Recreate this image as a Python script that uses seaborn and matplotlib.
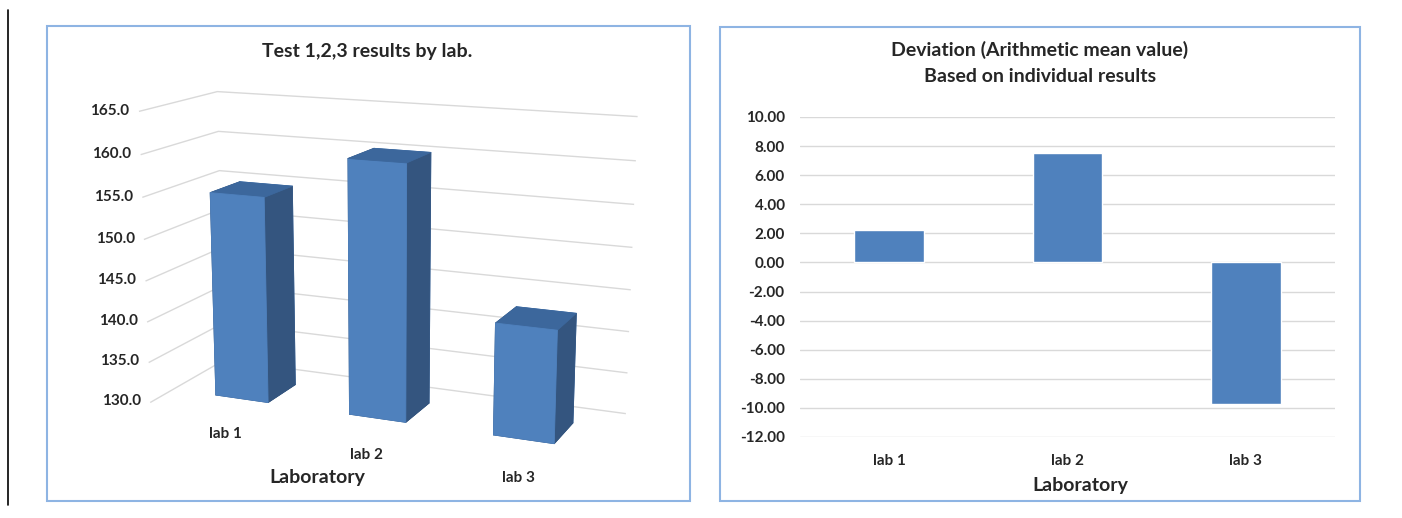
import numpy as np
import pandas as pd
import matplotlib
matplotlib.use('Agg')
import matplotlib.pyplot as plt
import seaborn as sns
from matplotlib.patches import Rectangle
from matplotlib.lines import Line2D
from matplotlib.ticker import FormatStrFormatter, NullFormatter
from mpl_toolkits.mplot3d import proj3d

labs = ['lab 1', 'lab 2', 'lab 3']
results = [155.0, 160.3, 143.1]
deviation = [2.2, 7.5, -9.7]
z_ticks = [130, 135, 140, 145, 150, 155, 160, 165]
dev_ticks = [-12, -10, -8, -6, -4, -2, 0, 2, 4, 6, 8, 10]

sns.set_theme(style='white')
plt.rcParams['font.family'] = ['Lato', 'DejaVu Sans']
plt.rcParams['font.weight'] = 'bold'

blue = '#4F81BD'
grid_c = '#D9D9D9'
frame_c = '#8EB4E3'

fig = plt.figure(figsize=(14.02, 5.18), dpi=100)
W, H = 1402, 518

def fx(px):
    return px / W

def fy(py):
    return 1 - py / H

# frames and the thin black line on the far left
fig.add_artist(Rectangle((fx(47), fy(501)), fx(690 - 47), (501 - 26) / H,
                         transform=fig.transFigure, fill=False, ec=frame_c, lw=1.5))
fig.add_artist(Rectangle((fx(720), fy(501)), fx(1360 - 720), (501 - 27) / H,
                         transform=fig.transFigure, fill=False, ec=frame_c, lw=1.5))
fig.add_artist(Line2D([fx(8), fx(8)], [fy(10), fy(505)], transform=fig.transFigure,
                      color='black', lw=1.2))

# ---- left: 3D bars
ax3 = fig.add_axes([fx(80), fy(475), fx(600), (475 - 65) / H], projection='3d')
ax3.set_proj_type('persp', focal_length=0.7)
ax3.view_init(elev=14, azim=-67)
ax3.set_box_aspect((3.2, 1.1, 2.1), zoom=1.36)

x = np.arange(len(labs))
heights = np.array(results) - 130
front = blue
top = '#3C679C'
side = '#34557F'
cols = []
for _ in labs:
    cols += [side, top, front, front, side, side]
ax3.bar3d(x - 0.17, np.full(len(labs), 0.3), np.full(len(labs), 130),
          0.4, 0.4, heights, color=cols, edgecolor=cols, linewidth=0.6, shade=False)

ax3.set_xlim(-0.5, 2.5)
ax3.set_ylim(0, 1)
ax3.set_zlim(130, 165)
ax3.set_zticks(z_ticks)
ax3.set_xticks(x)
ax3.set_yticks([])
ax3.xaxis.set_major_formatter(NullFormatter())
ax3.zaxis.set_major_formatter(NullFormatter())
for axis in (ax3.xaxis, ax3.yaxis, ax3.zaxis):
    axis.pane.fill = False
    axis.pane.set_edgecolor((1, 1, 1, 0))
    axis.line.set_color((1, 1, 1, 0))
    axis._axinfo['tick']['inward_factor'] = 0
    axis._axinfo['tick']['outward_factor'] = 0
for axis in (ax3.xaxis, ax3.yaxis):
    axis._axinfo['grid']['color'] = (1, 1, 1, 0)
    axis._axinfo['grid']['linewidth'] = 0
ax3.zaxis._axinfo['grid']['color'] = grid_c
ax3.zaxis._axinfo['grid']['linewidth'] = 1.0
ax3.set_facecolor('none')

# tick labels of the 3D axes, projected to 2D through the axes' own projection
M = ax3.get_proj()
for z in z_ticks:
    px, py, _ = proj3d.proj_transform(-0.57, 0, z, M)
    ax3.text2D(px, py, f'{z:.1f}', transform=ax3.transData, ha='right', va='center',
               fontsize=11, fontweight='bold')
for i, lab in enumerate(labs):
    px, py, _ = proj3d.proj_transform(i + 0.14, -0.12, 129.3, M)
    ax3.text2D(px, py, lab, transform=ax3.transData, ha='center', va='top',
               fontsize=11, fontweight='bold')

fig.text(fx(367), fy(52), 'Test 1,2,3 results by lab.', ha='center', va='center',
         fontsize=14, fontweight='bold')
fig.text(fx(317), fy(477), 'Laboratory', ha='center', va='center',
         fontsize=14, fontweight='bold')

# ---- right: deviation bars
ax = fig.add_axes([fx(800), fy(437), fx(1335 - 800), (437 - 117) / H])
df = pd.DataFrame({'lab': labs, 'dev': deviation})
sns.barplot(data=df, x='lab', y='dev', color=blue, saturation=1, width=0.39, ax=ax)
ax.set_ylim(-12, 10)
ax.set_xlim(-0.5, 2.5)
ax.set_yticks(dev_ticks)
ax.yaxis.set_major_formatter(FormatStrFormatter('%.2f'))
ax.grid(axis='y', color=grid_c, lw=1.0)
ax.set_axisbelow(True)
for s in ax.spines.values():
    s.set_visible(False)
ax.tick_params(axis='both', length=0, labelsize=11)
ax.tick_params(axis='x', pad=12)
ax.tick_params(axis='y', pad=11)
for t in ax.get_xticklabels() + ax.get_yticklabels():
    t.set_fontweight('bold')
ax.set_xlabel('')
ax.set_ylabel('')
ax.set_facecolor('none')

fig.text(fx(1040), fy(50), 'Deviation (Arithmetic mean value)', ha='center', va='center',
         fontsize=14, fontweight='bold')
fig.text(fx(1040), fy(77), 'Based on individual results', ha='center', va='center',
         fontsize=14, fontweight='bold')
fig.text(fx(1080), fy(486), 'Laboratory', ha='center', va='center',
         fontsize=14, fontweight='bold')

fig.savefig('out.png', dpi=100, facecolor='white')
